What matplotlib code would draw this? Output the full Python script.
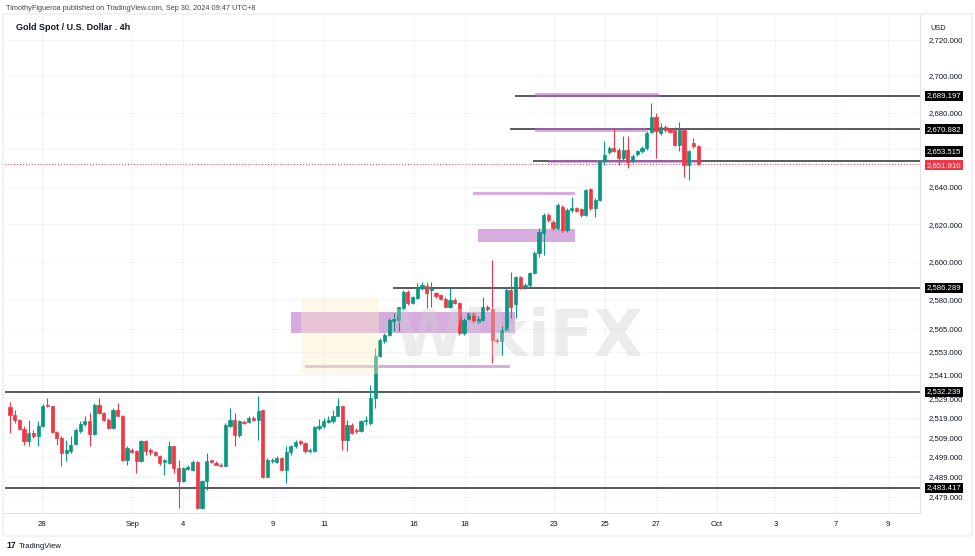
import matplotlib
matplotlib.use('Agg')
import matplotlib.pyplot as plt
import matplotlib.transforms as mtransforms
from matplotlib.patches import Rectangle, FancyBboxPatch
from matplotlib.ticker import FixedLocator, FuncFormatter, NullLocator, NullFormatter

# ---------------- data (4h candles) ----------------
opens = [2524.5, 2520.5, 2517.6, 2513.3, 2506.9, 2511.2, 2509.8, 2515.0, 2525.6, 2524.8,
         2511.5, 2508.7, 2501.0, 2502.0, 2505.5, 2512.3, 2516.0, 2517.1, 2510.5, 2525.6,
         2521.4, 2518.0, 2513.8, 2523.1, 2520.0, 2497.6, 2502.7, 2501.9, 2496.8, 2507.0,
         2502.4, 2501.4, 2499.7, 2496.3, 2496.0, 2504.4, 2493.4, 2486.6, 2492.9, 2492.6,
         2496.3, 2473.0, 2486.9, 2497.3, 2496.0, 2495.1, 2494.6, 2515.0, 2518.0, 2510.4,
         2517.0, 2516.6, 2518.9, 2518.0, 2522.7, 2489.1, 2496.8, 2496.3, 2498.5, 2492.5,
         2501.4, 2504.4, 2507.0, 2506.1, 2501.9, 2501.9, 2513.8, 2514.6, 2516.9, 2517.1,
         2520.0, 2524.8, 2507.8, 2515.5, 2512.9, 2512.0, 2517.1, 2516.3, 2529.0, 2550.9,
         2558.3, 2561.8, 2569.2, 2569.6, 2575.7, 2584.3, 2578.3, 2580.9, 2586.1, 2587.3,
         2585.2, 2583.5, 2582.6, 2580.4, 2576.5, 2580.0, 2578.3, 2562.7, 2570.0, 2573.1,
         2568.2, 2569.6, 2576.5, 2575.2, 2559.2, 2558.3, 2564.4, 2585.2, 2578.0, 2592.2,
         2586.6, 2587.8, 2593.9, 2604.6, 2615.2, 2624.9, 2621.3, 2617.8, 2629.3, 2616.9,
         2627.5, 2628.4, 2627.9, 2624.9, 2638.6, 2628.4, 2632.8, 2653.5, 2658.4, 2660.8,
         2659.8, 2655.4, 2659.8, 2653.5, 2657.7, 2659.0, 2660.8, 2669.7, 2677.8, 2668.9,
         2672.4, 2671.0, 2670.6, 2662.5, 2670.6, 2651.7, 2663.5, 2662.0]
highs = [2526.8, 2522.7, 2518.5, 2514.6, 2517.6, 2512.6, 2517.1, 2526.1, 2529.0, 2525.1,
         2512.0, 2509.5, 2507.8, 2509.5, 2513.8, 2517.1, 2519.7, 2521.4, 2526.5, 2529.0,
         2521.7, 2518.9, 2524.0, 2526.5, 2520.5, 2504.4, 2503.6, 2502.7, 2507.8, 2507.8,
         2503.6, 2501.9, 2500.2, 2498.0, 2506.9, 2504.8, 2497.6, 2493.9, 2495.1, 2497.6,
         2496.8, 2487.1, 2501.0, 2497.6, 2496.8, 2496.0, 2516.3, 2524.0, 2521.4, 2518.0,
         2517.6, 2519.7, 2519.7, 2529.9, 2523.1, 2498.5, 2498.5, 2499.3, 2499.0, 2504.4,
         2505.3, 2507.8, 2507.8, 2506.4, 2503.6, 2514.6, 2518.4, 2518.9, 2519.7, 2523.1,
         2529.0, 2525.1, 2518.0, 2516.3, 2513.8, 2518.0, 2519.7, 2535.8, 2554.9, 2560.1,
         2562.7, 2570.5, 2573.1, 2576.5, 2585.2, 2585.2, 2582.1, 2588.7, 2589.5, 2589.5,
         2589.5, 2584.3, 2583.1, 2581.7, 2586.1, 2580.9, 2579.1, 2570.5, 2573.9, 2573.9,
         2571.3, 2581.7, 2577.4, 2601.0, 2560.1, 2566.1, 2586.1, 2594.8, 2592.5, 2592.5,
         2588.9, 2594.8, 2605.5, 2617.8, 2625.8, 2625.8, 2622.2, 2631.2, 2630.2, 2628.6,
         2634.6, 2629.1, 2628.6, 2638.7, 2639.3, 2633.7, 2654.4, 2664.3, 2662.0, 2671.0,
         2660.8, 2667.0, 2667.0, 2657.7, 2659.8, 2662.0, 2669.8, 2685.4, 2679.7, 2674.3,
         2673.3, 2671.7, 2672.4, 2674.6, 2671.0, 2659.8, 2666.3, 2662.5]
lows = [2511.2, 2516.3, 2512.9, 2505.3, 2504.4, 2508.7, 2504.4, 2514.2, 2524.5, 2511.3,
        2505.3, 2494.2, 2496.8, 2501.0, 2505.0, 2511.2, 2514.6, 2504.4, 2510.0, 2521.0,
        2517.1, 2513.3, 2513.3, 2519.7, 2496.8, 2495.1, 2501.0, 2490.9, 2496.3, 2500.2,
        2500.2, 2499.3, 2495.1, 2490.0, 2495.6, 2490.9, 2473.0, 2486.1, 2492.2, 2491.7,
        2472.5, 2472.5, 2482.4, 2496.0, 2494.8, 2494.2, 2494.2, 2514.2, 2504.4, 2509.4,
        2516.0, 2516.3, 2517.1, 2507.8, 2488.3, 2488.8, 2496.0, 2496.0, 2492.2, 2485.8,
        2500.2, 2503.6, 2505.3, 2501.0, 2501.0, 2501.4, 2512.9, 2513.8, 2516.3, 2516.3,
        2519.7, 2502.7, 2501.9, 2510.7, 2511.2, 2511.5, 2515.5, 2515.5, 2524.0, 2550.2,
        2557.6, 2561.3, 2563.5, 2563.5, 2574.8, 2577.4, 2577.9, 2580.4, 2585.2, 2575.7,
        2576.5, 2581.0, 2579.9, 2576.2, 2575.7, 2577.9, 2561.8, 2561.8, 2569.6, 2567.9,
        2567.5, 2568.7, 2574.3, 2547.1, 2557.4, 2551.4, 2563.5, 2570.5, 2570.5, 2585.6,
        2585.7, 2586.9, 2593.4, 2602.8, 2603.7, 2621.3, 2616.9, 2616.9, 2615.9, 2615.9,
        2626.6, 2626.5, 2624.0, 2624.4, 2627.5, 2624.0, 2632.3, 2651.7, 2657.7, 2658.4,
        2651.7, 2654.4, 2650.0, 2652.8, 2656.6, 2658.2, 2659.8, 2668.9, 2655.4, 2668.0,
        2669.7, 2668.9, 2661.6, 2659.0, 2645.4, 2643.6, 2661.0, 2651.4]
closes = [2520.5, 2517.6, 2513.3, 2506.9, 2511.2, 2509.8, 2515.0, 2525.1, 2524.8, 2511.5,
          2508.7, 2501.0, 2502.4, 2504.9, 2512.6, 2516.0, 2517.1, 2510.5, 2525.6, 2521.4,
          2518.0, 2513.8, 2523.1, 2520.0, 2497.6, 2503.6, 2501.7, 2496.8, 2507.0, 2501.9,
          2501.4, 2500.1, 2496.0, 2497.6, 2504.4, 2493.4, 2486.6, 2493.4, 2493.7, 2496.3,
          2473.0, 2486.6, 2497.1, 2496.3, 2495.1, 2494.6, 2515.5, 2518.0, 2510.4, 2517.1,
          2516.3, 2518.9, 2518.0, 2522.2, 2489.1, 2497.6, 2497.6, 2498.5, 2492.5, 2501.4,
          2504.4, 2506.7, 2506.1, 2501.9, 2502.7, 2514.3, 2515.0, 2517.1, 2517.6, 2520.0,
          2524.8, 2507.8, 2515.5, 2511.2, 2512.0, 2517.1, 2518.0, 2529.0, 2550.9, 2559.2,
          2561.8, 2569.6, 2570.0, 2576.0, 2584.3, 2578.3, 2581.4, 2586.1, 2587.8, 2583.5,
          2586.1, 2582.1, 2580.4, 2576.5, 2580.0, 2578.3, 2562.7, 2569.6, 2573.1, 2568.7,
          2570.0, 2576.5, 2575.2, 2559.2, 2558.3, 2564.4, 2585.2, 2576.5, 2592.2, 2586.1,
          2587.8, 2593.9, 2604.6, 2616.0, 2624.9, 2622.2, 2617.8, 2630.2, 2616.9, 2627.5,
          2628.4, 2627.2, 2624.9, 2638.2, 2628.4, 2632.8, 2653.5, 2657.1, 2660.8, 2658.9,
          2655.4, 2659.8, 2653.0, 2656.6, 2659.0, 2660.8, 2668.9, 2677.5, 2670.0, 2672.4,
          2670.6, 2669.7, 2662.5, 2670.6, 2651.7, 2658.9, 2662.0, 2651.9]

day_ticks = [6.8, 26.1, 37.0, 56.2, 67.1, 86.3, 97.2, 116.2, 127.1, 138.0, 151.0, 163.5, 176.5, 187.6]
day_labels = ['28', 'Sep', '4', '9', '11', '16', '18', '23', '25', '27', 'Oct', '3', '7', '9']

price_ticks = [2479, 2489, 2499, 2509, 2519, 2529, 2541, 2553, 2565, 2580,
               2600, 2620, 2640, 2660, 2680, 2700, 2720]

level_prices = [2689.197, 2670.882, 2653.515, 2586.289, 2532.239, 2483.417]
level_starts = [107.9, 106.8, 111.8, 81.8, -2.0, -2.0]
current_price = 2651.910

zone_x0 = [112.2, 112.2, 115.0, 98.9, 100.0, 60.0, 63.0]
zone_x1 = [138.7, 136.1, 147.4, 120.7, 120.7, 107.9, 106.8]
zone_lo = [2688.6, 2669.7, 2652.7, 2635.7, 2610.7, 2562.7, 2544.8]
zone_hi = [2690.5, 2671.6, 2654.3, 2637.3, 2617.3, 2573.9, 2546.3]

# ---------------- styling ----------------
W, H = 975, 556
UP = '#089981'
DOWN = '#f23645'
TXT = '#131722'
GRID = '#f2f4f9'
ZONE = '#ba68c8'
FONT = ['Liberation Sans', 'DejaVu Sans']
plt.rcParams['font.family'] = FONT

fig = plt.figure(figsize=(W / 100, H / 100), dpi=100)
fig.patch.set_facecolor('white')


def fx(px):
    return px / W


def fy(py):
    return 1 - py / H


ax_l, ax_r, ax_t, ax_b = 5, 920, 15, 513
ax = fig.add_axes([fx(ax_l), fy(ax_b), fx(ax_r) - fx(ax_l), fy(ax_t) - fy(ax_b)])
ax.set_facecolor('white')
ax.set_yscale('log')
xmin, xmax = -1.07, 194.4
ax.set_xlim(xmin, xmax)
ax.set_ylim(2470.73, 2733.6)

# axes, ticks, grid
ax.yaxis.set_major_locator(FixedLocator(price_ticks))
ax.yaxis.set_minor_locator(NullLocator())
ax.yaxis.set_minor_formatter(NullFormatter())
ax.yaxis.set_major_formatter(FuncFormatter(lambda v, p: f'{v:,.3f}'))
ax.yaxis.tick_right()
ax.tick_params(axis='y', length=0, pad=6.5, labelsize=5.6, labelcolor=TXT)
ax.set_xticks(day_ticks)
ax.set_xticklabels(day_labels)
ax.tick_params(axis='x', length=0, pad=6.0, labelsize=5.6, labelcolor=TXT)
ax.grid(True, color=GRID, linewidth=0.6)
ax.set_axisbelow(True)
for s in ['top', 'left']:
    ax.spines[s].set_visible(False)
for s in ['right', 'bottom']:
    ax.spines[s].set_color('#e0e3eb')
    ax.spines[s].set_linewidth(0.8)

# watermark (faint)
fig.text(fx(518), fy(338), 'WikiFX', ha='center', va='center', fontsize=46,
         fontweight='bold', color='#cfcfcf', alpha=0.38, family='DejaVu Sans', zorder=0)
fig.patches.append(FancyBboxPatch((fx(305), fy(372)), fx(70), 72 / H,
                                  boxstyle='round,pad=0.004', transform=fig.transFigure,
                                  fc='#fbefc4', ec='none', alpha=0.4, zorder=0))

# current price dotted line
ax.axhline(current_price, color=DOWN, lw=0.7, ls=(0, (1, 2)), zorder=2)

# horizontal rays
for p, x0 in zip(level_prices, level_starts):
    ax.hlines(p, x0, xmax, color='#2a2e39', lw=1.1, zorder=3)

# zones
for x0, x1, lo, hi in zip(zone_x0, zone_x1, zone_lo, zone_hi):
    ax.add_patch(Rectangle((x0, lo), x1 - x0, hi - lo, fc=ZONE, ec='none',
                           alpha=0.55, zorder=4))

# candles
xs = list(range(len(opens)))
for i, o, h, l, c in zip(xs, opens, highs, lows, closes):
    col = UP if c >= o else DOWN
    ax.vlines(i, l, h, color=col, lw=0.8, zorder=5)
    ax.bar(i, abs(c - o), bottom=min(o, c), width=0.68, color=col,
           edgecolor=col, linewidth=0.5, zorder=6)

# price labels on the price scale
blend = mtransforms.blended_transform_factory(ax.transAxes, ax.transData)
lab_x = 1.0264
for p in level_prices:
    dy = 7.2 if p == 2653.515 else 0
    ax.annotate(f'{p:,.3f}', xy=(lab_x, p), xycoords=blend, xytext=(0, dy),
                textcoords='offset points', ha='center', va='center', fontsize=5.6,
                color='white', annotation_clip=False, zorder=20,
                bbox=dict(boxstyle='square,pad=0.2', fc='#000000', ec='none'))
ax.annotate(f'{current_price:,.3f}', xy=(lab_x, current_price), xycoords=blend,
            xytext=(0, -0.6), textcoords='offset points',
            ha='center', va='center', fontsize=5.6, color='white',
            annotation_clip=False, zorder=21,
            bbox=dict(boxstyle='square,pad=0.2', fc=DOWN, ec='none'))

# header / footer texts
fig.text(fx(6), fy(8), 'TimothyFigueroa published on TradingView.com, Sep 30, 2024 09:47 UTC+8',
         ha='left', va='center', fontsize=5.3, color='#434651')
fig.text(fx(16), fy(27), 'Gold Spot / U.S. Dollar . 4h', ha='left', va='center',
         fontsize=6.5, fontweight='bold', color=TXT)
fig.text(fx(930), fy(28), 'USD', ha='left', va='center', fontsize=5.3, color=TXT)
fig.text(fx(6), fy(546), '17', ha='left', va='center', fontsize=6.2, fontweight='bold', color=TXT)
fig.text(fx(19), fy(546), 'TradingView', ha='left', va='center', fontsize=5.6, color=TXT)

# pane border
fig.patches.append(FancyBboxPatch((fx(3), fy(536)), fx(969), (536 - 14) / H,
                                  boxstyle='round,pad=0.0', transform=fig.transFigure,
                                  fc='none', ec='#e6e8ee', lw=0.8, zorder=1))

fig.savefig('out.png', dpi=100, facecolor='white')
